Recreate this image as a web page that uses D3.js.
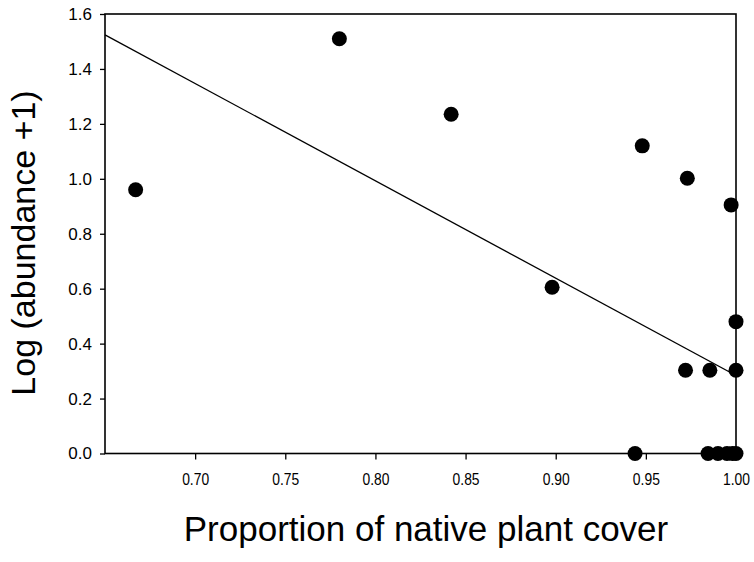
<!DOCTYPE html>
<html>
<head>
<meta charset="utf-8">
<script src="https://cdn.jsdelivr.net/npm/d3@7"></script>
<style>
body { margin: 0; background: #fff; }
svg { display: block; }
text { font-family: "Liberation Sans", Arial, sans-serif; fill: #000; }
</style>
</head>
<body>
<script>
// native plant cover vs log abundance
var coverX = [0.667, 0.780, 0.842, 0.898, 0.944, 0.948, 0.972, 0.973, 0.9855, 0.9973, 1.0, 1.0,
              0.9845, 0.990, 0.995, 0.998, 1.0];
var logAbund = [0.96, 1.51, 1.235, 0.605, 0.0, 1.12, 0.303, 1.002, 0.303, 0.905, 0.48, 0.303,
                0.0, 0.0, 0.0, 0.0, 0.0];

// regression line ends
var fitX = [0.65, 1.0];
var fitY = [1.524, 0.284];

var xTicks = [0.70, 0.75, 0.80, 0.85, 0.90, 0.95, 1.00];
var yTicks = [0.0, 0.2, 0.4, 0.6, 0.8, 1.0, 1.2, 1.4, 1.6];

var width = 754,
height = 562;

var pLeft = 105, pRight = 736, pTop = 14, pBottom = 453.5;

var x = d3.scaleLinear().domain([0.65, 1.0]).range([pLeft, pRight]);
var y = d3.scaleLinear().domain([0, 1.6]).range([pBottom, pTop]);

var svg = d3.select("body").append("svg")
.attr("width", width)
.attr("height", height);

// regression line
var line = d3.line()
.x(function(d) { return x(d[0]); })
.y(function(d) { return y(d[1]); });

svg.append("path")
.datum(d3.zip(fitX, fitY))
.attr("d", line)
.attr("fill", "none")
.attr("stroke", "#000")
.attr("stroke-width", 1.3);

// frame
svg.append("rect")
.attr("x", pLeft)
.attr("y", pTop)
.attr("width", pRight - pLeft)
.attr("height", pBottom - pTop)
.attr("fill", "none")
.attr("stroke", "#000")
.attr("stroke-width", 1.6);

var xAxis = svg.append("g")
.attr("transform", "translate(0," + pBottom + ")")
.call(d3.axisBottom(x).tickValues(xTicks).tickSize(6).tickPadding(13).tickFormat(d3.format(".2f")));

var yAxis = svg.append("g")
.attr("transform", "translate(" + pLeft + ",0)")
.call(d3.axisLeft(y).tickValues(yTicks).tickSize(5).tickPadding(8).tickFormat(d3.format(".1f")));

svg.selectAll(".domain").remove();
svg.selectAll(".tick line").attr("stroke", "#000").attr("stroke-width", 1.3);
xAxis.attr("font-size", null).attr("font-family", null);
yAxis.attr("font-size", null).attr("font-family", null);
// x labels are set narrower in the original
xAxis.selectAll("text").style("font-size", "17px").attr("fill", "#000")
.attr("textLength", 27).attr("lengthAdjust", "spacingAndGlyphs");
yAxis.selectAll("text").style("font-size", "17px").attr("fill", "#000");

// points
svg.selectAll("circle.pt")
.data(d3.zip(coverX, logAbund))
.enter().append("circle")
.attr("class", "pt")
.attr("cx", function(d) { return x(d[0]); })
.attr("cy", function(d) { return y(d[1]); })
.attr("r", 7.5)
.attr("fill", "#000");

// labels
svg.append("text")
.attr("x", 426)
.attr("y", 541)
.attr("text-anchor", "middle")
.style("font-size", "35px")
.text("Proportion of native plant cover");

svg.append("text")
.attr("transform", "translate(35,243)rotate(-90)")
.attr("text-anchor", "middle")
.style("font-size", "34px")
.text("Log (abundance +1)");
</script>
</body>
</html>
